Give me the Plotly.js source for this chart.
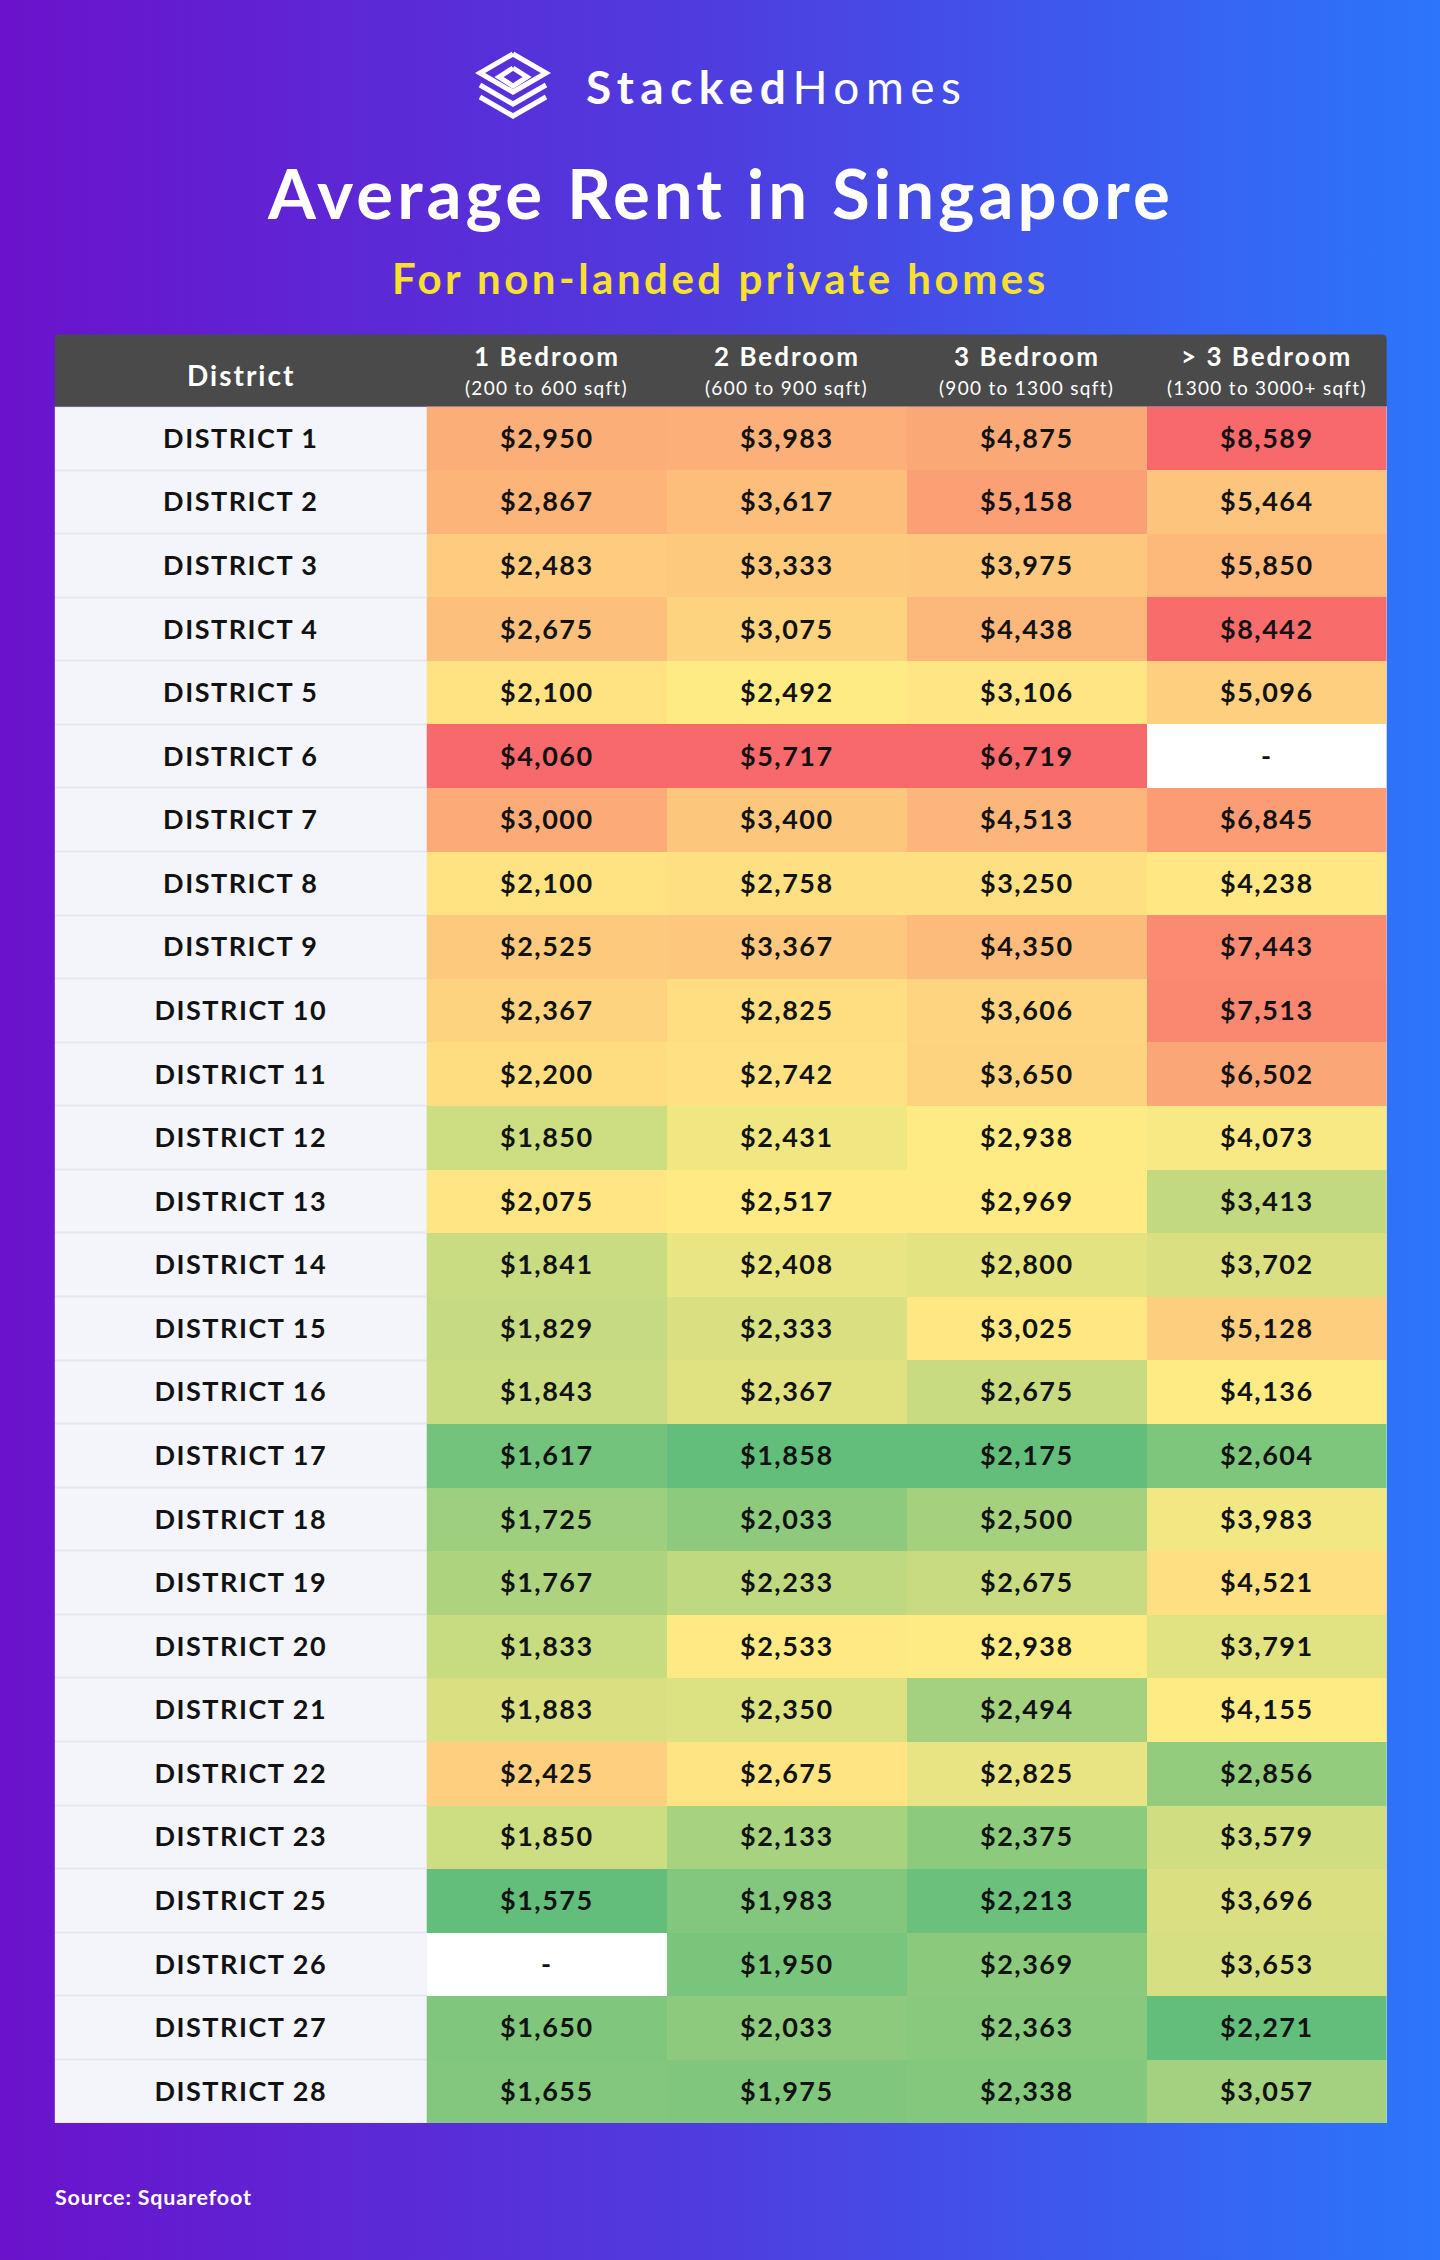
<!DOCTYPE html>
<html>
<head>
<meta charset="utf-8">
<script src="https://cdn.plot.ly/plotly-3.0.1.min.js"></script>
<style>
html, body { margin: 0; padding: 0; }
#chart { width: 1440px; height: 2260px; background: linear-gradient(90deg, #6b12cb 0%, #4d3fe0 52%, #2b76fb 100%); }
</style>
</head>
<body>
<div id="chart"></div>
<script>
// ---------- DATA ----------
const districts = ['DISTRICT 1','DISTRICT 2','DISTRICT 3','DISTRICT 4','DISTRICT 5','DISTRICT 6','DISTRICT 7','DISTRICT 8','DISTRICT 9','DISTRICT 10','DISTRICT 11','DISTRICT 12','DISTRICT 13','DISTRICT 14','DISTRICT 15','DISTRICT 16','DISTRICT 17','DISTRICT 18','DISTRICT 19','DISTRICT 20','DISTRICT 21','DISTRICT 22','DISTRICT 23','DISTRICT 25','DISTRICT 26','DISTRICT 27','DISTRICT 28'];
const bedroomTypes = ['1 Bedroom','2 Bedroom','3 Bedroom','> 3 Bedroom'];
const sizeRanges = ['(200 to 600 sqft)','(600 to 900 sqft)','(900 to 1300 sqft)','(1300 to 3000+ sqft)'];
const rent1Bed = [2950,2867,2483,2675,2100,4060,3000,2100,2525,2367,2200,1850,2075,1841,1829,1843,1617,1725,1767,1833,1883,2425,1850,1575,null,1650,1655];
const rent2Bed = [3983,3617,3333,3075,2492,5717,3400,2758,3367,2825,2742,2431,2517,2408,2333,2367,1858,2033,2233,2533,2350,2675,2133,1983,1950,2033,1975];
const rent3Bed = [4875,5158,3975,4438,3106,6719,4513,3250,4350,3606,3650,2938,2969,2800,3025,2675,2175,2500,2675,2938,2494,2825,2375,2213,2369,2363,2338];
const rentMore3Bed = [8589,5464,5850,8442,5096,null,6845,4238,7443,7513,6502,4073,3413,3702,5128,4136,2604,3983,4521,3791,4155,2856,3579,3696,3653,2271,3057];
const headerFirst = 'District';
const titleText = 'Average Rent in Singapore';
const subtitleText = 'For non-landed private homes';
const brandBold = 'Stacked';
const brandRegular = 'Homes';
const sourceText = 'Source: Squarefoot';

// ---------- LAYOUT HELPERS ----------
const W = 1440, H = 2260;
const px = v => v / W;
const py = v => 1 - v / H;
const FONT = 'Lato, "Open Sans", sans-serif';
const T = { left: 54.8, right: 1386.6, headTop: 334.4, headBottom: 406.5, bottom: 2123 };
const colWidths = [372, 240, 240, 240, 240];
const edges = colWidths.reduce((a, w) => { a.push(a[a.length - 1] + w); return a; }, [0]);
const rentColumns = [rent1Bed, rent2Bed, rent3Bed, rentMore3Bed];

// Excel-style 3-colour scale per column (min / 50th percentile / max)
function median(sorted) {
  const pos = (sorted.length - 1) * 0.5, lo = Math.floor(pos), hi = Math.ceil(pos);
  return sorted[lo] + (sorted[hi] - sorted[lo]) * (pos - lo);
}
const colorPos = rentColumns.map(col => {
  const s = col.filter(v => v != null).sort((a, b) => a - b);
  const mn = s[0], mx = s[s.length - 1], md = median(s);
  return col.map(v => v == null ? null : (v <= md ? 0.5 * (v - mn) / (md - mn) : 0.5 + 0.5 * (v - md) / (mx - md)));
});
const fmt = v => v == null ? '-' : '$' + v.toLocaleString('en-US');
const zVals = districts.map((d, r) => rentColumns.map((c, ci) => colorPos[ci][r]));
const tVals = districts.map((d, r) => rentColumns.map(c => fmt(c[r])));

const districtTrace = {
  type: 'heatmap', x: [edges[0], edges[1]], y: districts,
  z: districts.map(() => [1]), text: districts.map(d => [d]),
  texttemplate: '<span style="letter-spacing:1.5px"><b>%{text}</b></span>',
  textfont: { family: FONT, size: 27, color: '#121212' },
  colorscale: [[0, '#f4f5fa'], [1, '#f4f5fa']], showscale: false, ygap: 2, hoverinfo: 'skip'
};
const rentTrace = {
  type: 'heatmap', x: edges.slice(1), y: districts, z: zVals, zmin: 0, zmax: 1,
  text: tVals, texttemplate: '<span style="letter-spacing:1.5px"><b>%{text}</b></span>',
  textfont: { family: FONT, size: 27, color: '#121212' },
  colorscale: [[0, '#63BE7B'], [0.5, '#FFEB84'], [1, '#F8696B']], showscale: false, hoverinfo: 'skip'
};

// ---------- DECORATION ----------
const shapes = [];
shapes.push({ type: 'rect', xref: 'x', yref: 'paper', x0: edges[1], x1: edges[edges.length - 1], y0: py(T.bottom), y1: py(T.headBottom), fillcolor: '#ffffff', line: { width: 0 }, layer: 'below' });
const rad = 5;
const headPath = [
  'M', px(T.left), ',', py(T.headBottom),
  ' L', px(T.left), ',', py(T.headTop + rad),
  ' Q', px(T.left), ',', py(T.headTop), ' ', px(T.left + rad), ',', py(T.headTop),
  ' L', px(T.right - rad), ',', py(T.headTop),
  ' Q', px(T.right), ',', py(T.headTop), ' ', px(T.right), ',', py(T.headTop + rad),
  ' L', px(T.right), ',', py(T.headBottom), ' Z'
].join('');
shapes.push({ type: 'path', xref: 'paper', yref: 'paper', path: headPath, fillcolor: '#4a4a4a', line: { width: 0 } });
const iconLines = [
  [[513, 54], [546, 73], [513, 92], [480, 73], [513, 54]],
  [[513, 68], [527, 77], [513, 86], [499, 77], [513, 68]],
  [[480, 85], [513, 104], [546, 85]],
  [[480, 97], [513, 116], [546, 97]]
];
iconLines.forEach(pts => {
  const d = pts.map((p, i) => (i ? 'L' : 'M') + px(p[0]) + ',' + py(p[1])).join(' ');
  shapes.push({ type: 'path', xref: 'paper', yref: 'paper', path: d, line: { color: '#ffffff', width: 5 } });
});

const ann = [];
ann.push({ x: px(584), y: py(87), xref: 'paper', yref: 'paper', xanchor: 'left', yanchor: 'middle', showarrow: false,
  text: '<span style="letter-spacing:6.5px"><b>' + brandBold + '</b>' + brandRegular + '</span>', font: { family: FONT, size: 46, color: '#ffffff' } });
ann.push({ x: 0.5, y: py(193), xref: 'paper', yref: 'paper', xanchor: 'center', yanchor: 'middle', showarrow: false,
  text: '<span style="letter-spacing:4px"><b>' + titleText + '</b></span>', font: { family: FONT, size: 69, color: '#ffffff' } });
ann.push({ x: 0.5, y: py(278), xref: 'paper', yref: 'paper', xanchor: 'center', yanchor: 'middle', showarrow: false,
  text: '<span style="letter-spacing:3.5px"><b>' + subtitleText + '</b></span>', font: { family: FONT, size: 42, color: '#f7e12e' } });
ann.push({ x: (edges[0] + edges[1]) / 2, y: py(375), xref: 'x', yref: 'paper', xanchor: 'center', yanchor: 'middle', showarrow: false,
  text: '<span style="letter-spacing:2px"><b>' + headerFirst + '</b></span>', font: { family: FONT, size: 28, color: '#ffffff' } });
bedroomTypes.forEach((b, i) => {
  const cx = (edges[i + 1] + edges[i + 2]) / 2;
  ann.push({ x: cx, y: py(356), xref: 'x', yref: 'paper', xanchor: 'center', yanchor: 'middle', showarrow: false,
    text: '<span style="letter-spacing:2px"><b>' + b + '</b></span>', font: { family: FONT, size: 26, color: '#ffffff' } });
  ann.push({ x: cx, y: py(388), xref: 'x', yref: 'paper', xanchor: 'center', yanchor: 'middle', showarrow: false,
    text: '<span style="letter-spacing:1.3px">' + sizeRanges[i] + '</span>', font: { family: FONT, size: 19, color: '#ffffff' } });
});
ann.push({ x: px(53), y: py(2197), xref: 'paper', yref: 'paper', xanchor: 'left', yanchor: 'middle', showarrow: false,
  text: '<span style="letter-spacing:0.8px"><b>' + sourceText + '</b></span>', font: { family: FONT, size: 21.5, color: '#ffffff' } });

const layout = {
  width: W, height: H, autosize: false,
  margin: { l: 0, r: 0, t: 0, b: 0, pad: 0 },
  paper_bgcolor: 'rgba(0,0,0,0)', plot_bgcolor: '#e6e7ee',
  xaxis: { domain: [px(T.left), px(T.right)], range: [edges[0], edges[edges.length - 1]], visible: false, fixedrange: true },
  yaxis: { domain: [py(T.bottom), py(T.headBottom)], type: 'category', range: [districts.length - 0.5, -0.5], visible: false, fixedrange: true },
  shapes: shapes, annotations: ann, showlegend: false
};

Plotly.newPlot('chart', [districtTrace, rentTrace], layout, { staticPlot: true, displayModeBar: false });
</script>
</body>
</html>
